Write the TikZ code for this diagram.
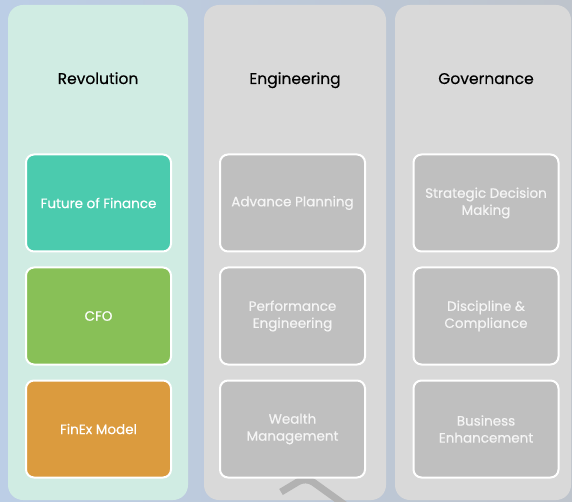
\documentclass[tikz,border=0pt]{standalone}
\usepackage{fontspec}
\setmainfont{Poppins}
\newfontfamily\medfont[FakeBold=0.6]{Poppins}
\newfontfamily\titlefont[FakeBold=0.3]{Poppins}
\definecolor{bgL}{RGB}{188,206,230}
\definecolor{bgR}{RGB}{190,196,204}
\definecolor{mint}{RGB}{208,236,227}
\definecolor{panelgray}{RGB}{217,217,217}
\definecolor{teal}{RGB}{75,203,174}
\definecolor{leaf}{RGB}{136,192,87}
\definecolor{amber}{RGB}{219,155,62}
\definecolor{boxgray}{RGB}{191,191,191}
\definecolor{chev}{RGB}{178,178,178}
\definecolor{graytext}{RGB}{245,245,245}
\tikzset{
  panel/.style={rounded corners=15pt, draw=none},
  title/.style={font=\titlefont\fontsize{15.5}{18}\selectfont, text=black, anchor=base},
  item/.style={rounded corners=8pt, draw=white, line width=2pt, minimum width=145pt, minimum height=97pt, align=center, text=white, font=\medfont\fontsize{13.5}{17}\selectfont, inner sep=0pt},
  grayitem/.style={item, fill=boxgray, text=graytext},
}
\begin{document}
\begin{tikzpicture}[x=1pt,y=-1pt]
\useasboundingbox (0,0) rectangle (572,502);
\shade[left color=bgL, right color=bgR] (0,0) rectangle (572,502);
% panels
\fill[mint, panel] (8,5) rectangle (188,500);
\fill[panelgray, panel] (204,5) rectangle (386,500);
\fill[panelgray, panel] (395,5) rectangle (571,500);
% chevron
\draw[chev, line width=7pt, rounded corners=9pt] (281,492) -- (306,477) -- (352,510);
% titles
\node[title] (t1) at (98,84) {Revolution};
\node[title] (t2) at (295,84) {Engineering};
\node[title] (t3) at (486,84) {Governance};
% items col 1
\node[item, fill=teal] (a1) at (98.5,203) {Future of Finance};
\node[item, fill=leaf] (a2) at (98.5,316) {CFO};
\node[item, fill=amber] (a3) at (98.5,429) {FinEx Model};
% col 2
\node[grayitem] (b1) at (292.5,203) {Advance Planning};
\node[grayitem] (b2) at (292.5,316) {Performance\\Engineering};
\node[grayitem] (b3) at (292.5,429) {Wealth\\Management};
% col 3
\node[grayitem] (c1) at (486,203) {Strategic Decision\\Making};
\node[grayitem] (c2) at (486,316) {Discipline \&\\Compliance};
\node[grayitem] (c3) at (486,429) {Business\\Enhancement};
\end{tikzpicture}
\end{document}
